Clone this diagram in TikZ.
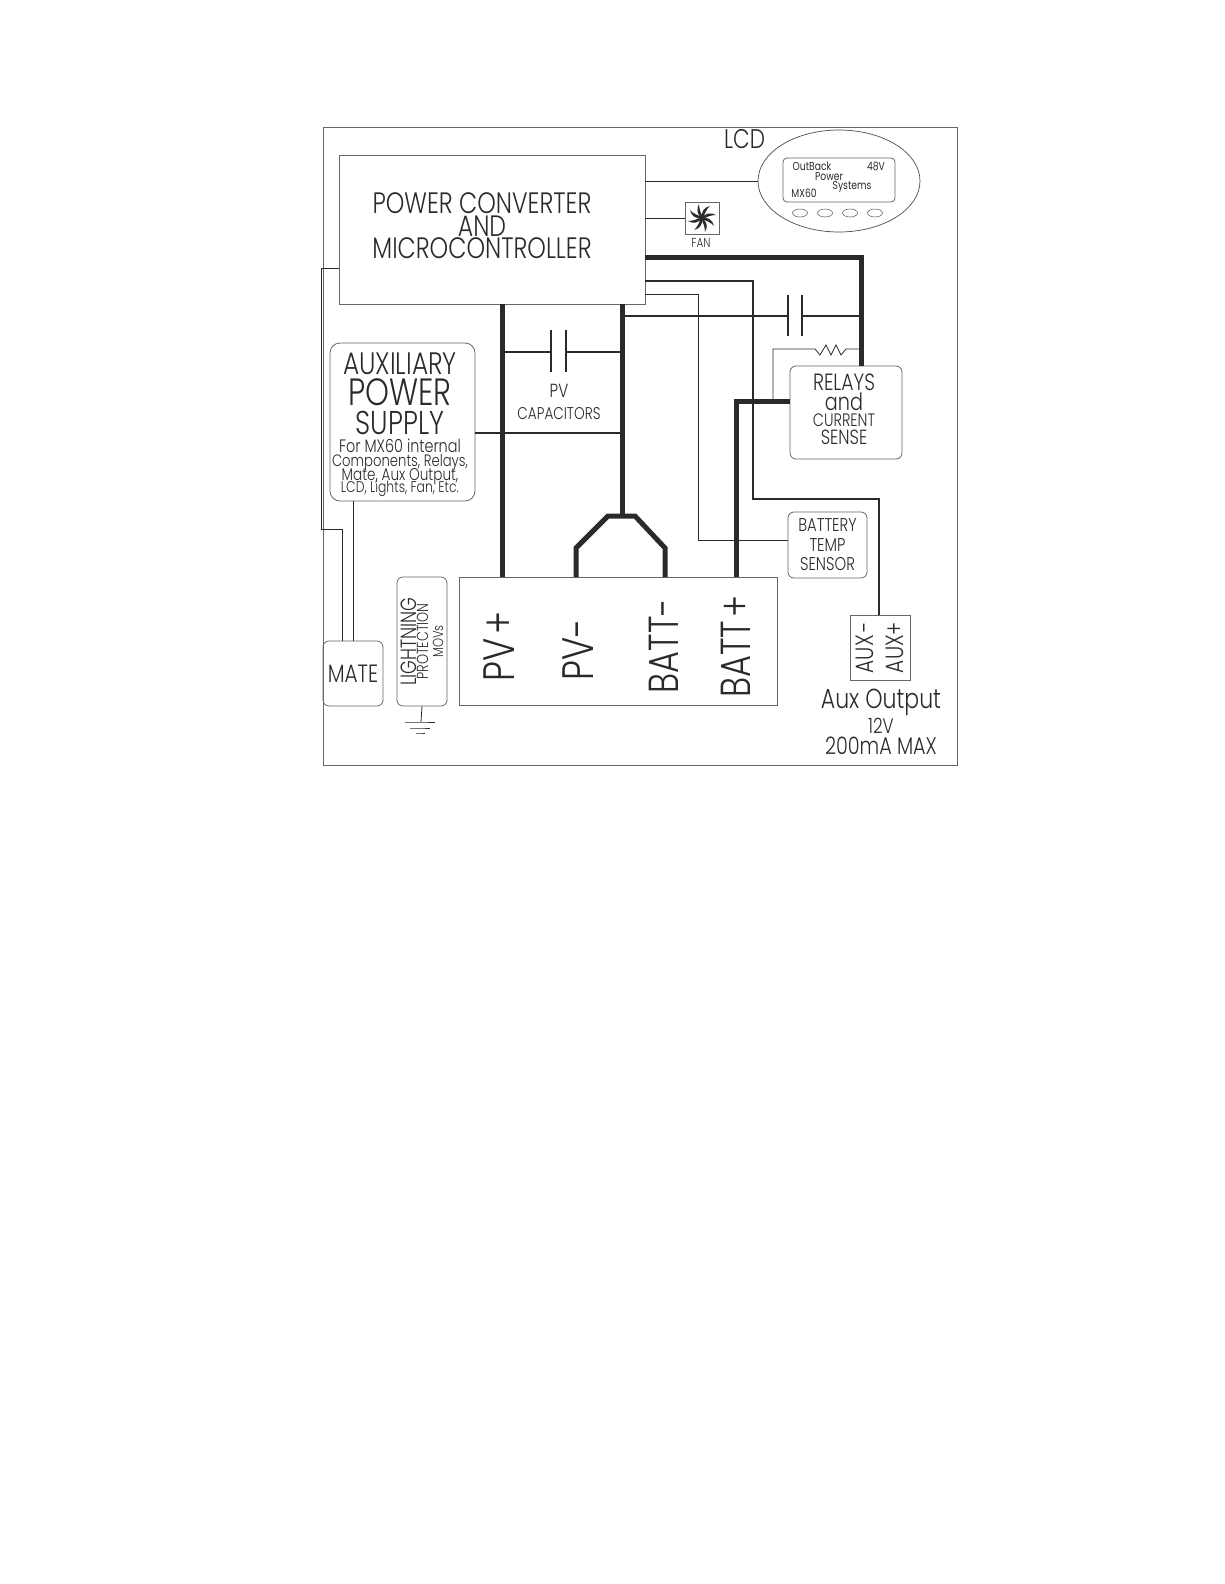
\documentclass[tikz,border=0pt]{standalone}
\usepackage{fontspec}
\setmainfont{Poppins Light}[FakeStretch=0.8]
\newfontfamily\lcdfont{Poppins}[FakeStretch=0.8]
\definecolor{wireink}{RGB}{42, 42, 38}
\usetikzlibrary{shapes.geometric, positioning}
\newcommand{\sz}[1]{\fontsize{#1}{#1}\selectfont}
\newcommand{\lh}[1]{\fontsize{10}{#1}\selectfont\lineskiplimit=-100pt}

\begin{document}
\begin{tikzpicture}[x=1pt, y=-1pt, text=wireink]
      \tikzstyle{block} = [rectangle, draw=black!60, line width=0.8pt, align=center, inner sep=0pt]
      \tikzstyle{rblock} = [block, rounded corners=6pt]
      \tikzstyle{tag} = [inner sep=0pt, align=center]
      \tikzstyle{btn} = [ellipse, draw=black!70, line width=0.5pt, minimum width=15pt, minimum height=8pt, inner sep=0pt]
      \tikzstyle{thin} = [draw=wireink, line width=0.8pt]
      \tikzstyle{mid} = [draw=wireink, line width=2pt]
      \tikzstyle{heavy} = [draw=wireink, line width=5pt]
      \tikzstyle{plate} = [draw=wireink, line width=1.6pt]

      \useasboundingbox (0,0) rectangle (1224,1584);

      \node [block, minimum width=634pt, minimum height=638pt] (frame) at (640,446) {};
      \node [block, minimum width=306pt, minimum height=149pt] (conv) at (492,229.5) {};
      \node [tag, font=\lh{22.5}] (convtext) at (482,226) {\sz{29.5}POWER CONVERTER\\\sz{29.5}AND\\\sz{29.5}MICROCONTROLLER};
      \node [ellipse, draw=black!70, line width=0.7pt, minimum width=162pt, minimum height=102pt, inner sep=0pt] (lcd) at (839,181) {};
      \node [tag] (lcdname) at (744.5,139) {\sz{27}LCD};
      \node [rblock, rounded corners=4pt, minimum width=112pt, minimum height=44pt] (screen) at (839,180) {};
      \node [tag] (scra) at (812,166) {\lcdfont\sz{11.5}OutBack};
      \node [tag] (scrb) at (876,166) {\lcdfont\sz{11.5}48V};
      \node [tag] (scrc) at (829,177) {\lcdfont\sz{11.5}Power};
      \node [tag] (scrd) at (852,187) {\lcdfont\sz{11.5}Systems};
      \node [tag] (scre) at (804,193.5) {\lcdfont\sz{11.5}MX60};
      \node [btn] (btna) at (800,213) {};
      \node [btn, right of=btna, node distance=25pt] (btnb) {};
      \node [btn, right of=btnb, node distance=25pt] (btnc) {};
      \node [btn, right of=btnc, node distance=25pt] (btnd) {};
      \node [block, minimum width=34pt, minimum height=32pt] (fan) at (702,218) {};
      \node [tag] (fanname) at (701,243) {\sz{13}FAN};
      \foreach \ang in {0,45,...,315} {
        \fill [wireink, shift={(fan.center)}, rotate=\ang] (0,0) .. controls (3,-5) and (9,-6) .. (14,-3) .. controls (9,-3) and (4,-1) .. (0,1.5) -- cycle;
      }

      \node [rblock, rounded corners=10pt, minimum width=145pt, minimum height=158pt] (aux) at (402.5,422) {};
      \node [tag, font=\lh{12}] (auxtext) at (400,424.5) {\sz{31}AUXILIARY\\[19pt]\sz{38}POWER\\[17pt]\sz{33}SUPPLY\\[6pt]\sz{18}For MX60 internal\\[2pt]\sz{16.5}Components, Relays,\\[2pt]\sz{17}Mate, Aux Output,\\\sz{15.5}LCD, Lights, Fan, Etc.};
      \node [tag, font=\lh{22}] (pvcaps) at (559,401.5) {\sz{19}PV\\\sz{17}CAPACITORS};
      \node [rblock, minimum width=112pt, minimum height=93pt] (relays) at (846,412.5) {};
      \node [tag, font=\lh{13}] (relaytext) at (844,409) {\sz{23.5}RELAYS\\[7pt]\sz{24}and\\[3pt]\sz{18}CURRENT\\[5pt]\sz{20.5}SENSE};
      \node [rblock, font=\lh{19.5}, minimum width=79pt, minimum height=66pt] (sensor) at (827.5,545) {\sz{18.5}BATTERY\\\sz{18.5}TEMP\\\sz{18.5}SENSOR};
      \node [block, minimum width=318pt, minimum height=128pt] (terms) at (618,641) {};
      \node [tag, rotate=90] (pvp) at (499.5,646) {\sz{44}PV\hspace{4pt}+};
      \node [tag, rotate=90] (pvn) at (578,650) {\sz{44}PV-};
      \node [tag, rotate=90] (battn) at (664,646) {\sz{42}BATT-};
      \node [tag, rotate=90] (battp) at (736,646.5) {\sz{42}BATT\hspace{3pt}+};
      \node [rblock, minimum width=60pt, minimum height=65pt] (mate) at (353,673.5) {\sz{25}MATE};
      \node [rblock, rotate=90, font=\lh{12}, minimum width=129pt, minimum height=50pt] (mov) at (422,641.5) {\sz{22}LIGHTNING\\\sz{16}PROTECTION\\[3pt]\sz{14.5}MOVs};
      \node [block, rotate=90, font=\lh{30}, minimum width=65pt, minimum height=60pt] (auxout) at (880,647.5) {\sz{25}AUX\hspace{3pt}-\\\sz{25}AUX+};
      \node [tag, font=\lh{12}] (auxname) at (881,721.5) {\sz{27.5}Aux Output\\[13pt]\sz{21}12V\\[9pt]\sz{24}200mA MAX};

      \coordinate (gnd) at (421,722);
      \coordinate (gndb) at (421,728);
      \coordinate (gndc) at (421,733);
      \coordinate (pvcapa) at (551,352);
      \coordinate (pvcapb) at (566,352);
      \coordinate (railp) at (502,352);
      \coordinate (railn) at (622,352);
      \coordinate (splitl) at (608,516);
      \coordinate (splitr) at (635,516);
      \coordinate (splitm) at (622,516);
      \coordinate (pvnpin) at (576,577);
      \coordinate (battnpin) at (665,577);
      \coordinate (battppin) at (736,577);
      \coordinate (relaytap) at (736,401);
      \coordinate (caprail) at (861,316);
      \coordinate (capa) at (788,316);
      \coordinate (capb) at (802,316);
      \coordinate (restap) at (773,349);
      \coordinate (auxdrop) at (879,499);

      \path [heavy] (conv.south -| railp) -- (terms.north -| railp);
      \path [heavy] (conv.south -| railn) -- (splitm);
      \path [heavy, line join=miter] (pvnpin) -- (576,548) -- (splitl) -- (splitr) -- (665,548) -- (battnpin);
      \path [heavy, line join=miter] (conv.east |- 0,257) -- (861,257) -- (relays.north -| caprail);
      \path [heavy, line join=miter] (relays.west |- relaytap) -- (relaytap) -- (battppin);

      \path [mid] (railp) -- (pvcapa);
      \path [mid] (pvcapb) -- (railn);
      \path [plate] (551,330) -- (551,372);
      \path [plate] (566,330) -- (566,372);
      \path [mid] (aux.east |- 0,433) -- (railn |- 0,433);
      \path [mid] (railn |- capa) -- (capa);
      \path [draw=wireink, line width=2.6pt] (capb) -- (caprail);
      \path [draw=wireink, line width=2.6pt] (788,295) -- (788,336);
      \path [plate] (802,295) -- (802,336);

      \path [thin] (conv.east |- lcd.west) -- (lcd.west);
      \path [thin] (conv.east |- fan.west) -- (fan.west);
      \path [draw=wireink, line width=1.1pt] (conv.east |- 0,281) -- (753,281) -- (753,499) -- (auxdrop) -- (auxdrop |- auxout.east);
      \path [thin] (conv.east |- 0,294) -- (698,294) -- (698,540) -- (sensor.west |- 0,540);
      \path [thin] (relaytap -| restap) -- (restap) -- (815,349) -- (820,355) -- (826,345) -- (831,355) -- (836,345) -- (841,355) -- (846,349) -- (caprail |- restap);
      \path [thin] (conv.west |- 0,268) -- (321,268) -- (321,529) -- (342,529) -- (mate.north -| 342,0);
      \path [thin] (aux.south -| mate.north) -- (mate.north);
      \path [thin] (mov.west) -- (gnd);
      \path [thin] (405,722) -- (gnd) -- (435,722);
      \path [thin] (410,728) -- (gndb) -- (430,728);
      \path [thin] (416,733) -- (gndc) -- (425,733);
    \end{tikzpicture}
\end{document}
